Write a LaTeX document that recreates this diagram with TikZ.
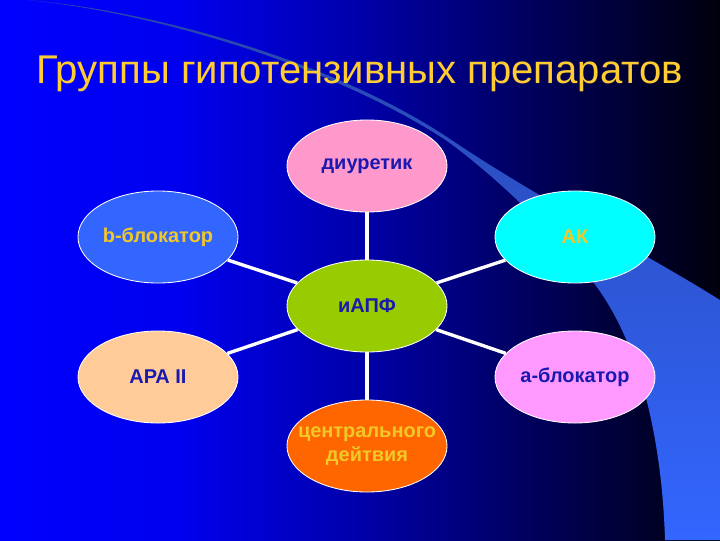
\documentclass[tikz,border=0pt]{standalone}
\usepackage{fontspec}
\setmainfont{Liberation Sans}
\usetikzlibrary{shapes.geometric}

\definecolor{bgA}{RGB}{0,0,255}
\definecolor{bgB}{RGB}{0,0,238}
\definecolor{bgC}{RGB}{0,0,170}
\definecolor{bgD}{RGB}{0,0,105}
\definecolor{bgE}{RGB}{0,0,58}
\definecolor{bgF}{RGB}{0,0,12}
\definecolor{swooshtop}{RGB}{40,70,170}
\definecolor{swooshlo}{RGB}{51,102,255}
\definecolor{titleyellow}{RGB}{255,204,51}
\definecolor{labelnavy}{RGB}{25,25,175}
\definecolor{labelyellow}{RGB}{240,200,40}
\definecolor{diurpink}{RGB}{255,153,204}
\definecolor{bblue}{RGB}{51,102,255}
\definecolor{akcyan}{RGB}{0,255,255}
\definecolor{iapfgreen}{RGB}{153,204,0}
\definecolor{arapeach}{RGB}{255,204,153}
\definecolor{aviolet}{RGB}{255,153,255}
\definecolor{centorange}{RGB}{255,102,0}

\pgfdeclarehorizontalshading{slidebg}{100bp}{color(0bp)=(bgA); color(25bp)=(bgA); color(37.5bp)=(bgB); color(50bp)=(bgC); color(60bp)=(bgD); color(67.5bp)=(bgE); color(75bp)=(bgF); color(100bp)=(bgF)}

\begin{document}
\begin{tikzpicture}
		[x=0.025cm, y=-0.025cm, inner sep=0pt,
		drug/.style	= {ellipse, draw=white, line width=0.6pt, minimum width=4cm, minimum height=2.3cm, align=center, font=\bfseries\fontsize{14.2}{17}\selectfont},
		links/.style	= {draw=white, line width=2.4pt}]
		
		\useasboundingbox (0,0) rectangle (720,540);
		\shade [shading=slidebg] (0,0) rectangle (720,540);
		\shade [top color=swooshtop, bottom color=swooshlo] (27,0) .. controls (150,10) and (330,60) .. (447,137) .. controls (540,200) and (640,250) .. (720,300) -- (720,540) -- (665,540) .. controls (662,440) and (640,340) .. (590,278) .. controls (550,228) and (490,172) .. (447,141) .. controls (330,64) and (150,12) .. (27,0) -- cycle;
		
		\node at (36,83)	[anchor=base west, text=titleyellow, font=\fontsize{28.5}{34}\selectfont]	(title)	{Группы гипотензивных препаратов};
		
		\node at (367,166)	[drug, fill=diurpink, text=labelnavy]		(diur)		{диуретик};
		\node at (158,237)	[drug, fill=bblue, text=labelyellow]		(bblock)	{b-блокатор};
		\node at (575,237)	[drug, fill=akcyan, text=labelyellow]		(ak)		{АК};
		\node at (367,306)	[drug, fill=iapfgreen, text=labelnavy]		(iapf)		{иАПФ};
		\node at (158,377)	[drug, fill=arapeach, text=labelnavy]		(ara)		{АРА II};
		\node at (575,377)	[drug, fill=aviolet, text=labelnavy]		(ablock)	{а-блокатор};
		\node at (367,446)	[drug, fill=centorange, text=labelyellow]	(central)	{\makebox[0pt]{центрального}\\\makebox[0pt]{дейтвия}};
		
		\draw [links] (iapf) -- (diur);
		\draw [links] (iapf) -- (bblock);
		\draw [links] (iapf) -- (ak);
		\draw [links] (iapf) -- (ara);
		\draw [links] (iapf) -- (ablock);
		\draw [links] (iapf) -- (central);
		
\end{tikzpicture}
\end{document}
